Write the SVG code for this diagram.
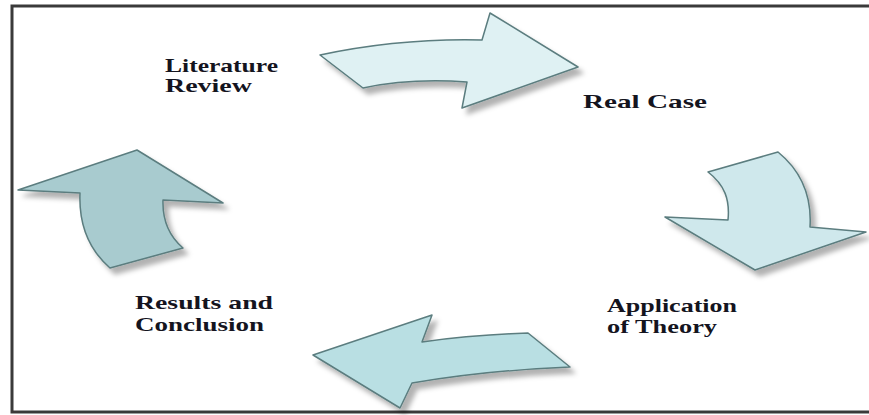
<svg xmlns="http://www.w3.org/2000/svg" width="869" height="415" viewBox="0 0 869 415">
<style>
.arrow{stroke:#5b7d7f;stroke-width:1.5;stroke-linejoin:round;filter:url(#sh)}
.lbl{font-family:"Liberation Serif","Times New Roman",serif;font-weight:bold;font-size:19px;fill:#14141e}
</style>
<defs>
<filter id="sh" x="-20%" y="-20%" width="150%" height="150%">
<feDropShadow dx="5" dy="6" stdDeviation="2.5" flood-color="#000" flood-opacity="0.3"/>
</filter>
</defs>
<rect width="869" height="415" fill="#fff"/>
<rect x="12" y="6" width="880" height="406" fill="none" stroke="#3a3a3a" stroke-width="3"/>
<g id="connectors">
<path id="arrow-top" class="arrow" fill="#dff1f3" d="M320,55 Q400,38 482,40 L490,13 L578,67 L462,108 L467,82 Q410,78 363,88 Z"/>
<path id="arrow-right" class="arrow" fill="#cfe8ec" d="M708,172 L778,152 C800,170 812,195 810,227 L866,232 L755,270 L665,217 L728,220 C730,200 725,185 708,172 Z"/>
<path id="arrow-bottom" class="arrow" fill="#b9dfe3" d="M313,355 L432,315 L422,342 Q470,335 528,333 L570,367 Q490,370 412,383 L400,408 Z"/>
<path id="arrow-left" class="arrow" fill="#a8cbcf" d="M137,150 L223,203 L163,200 Q162,230 183,248 L110,268 Q78,240 80,193 L18,190 Z"/>
</g>
<g id="node-literature">
<text class="lbl" x="165" y="72" textLength="113" lengthAdjust="spacingAndGlyphs">Literature</text>
<text class="lbl" x="165" y="92" textLength="87" lengthAdjust="spacingAndGlyphs">Review</text>
</g>
<g id="node-realcase">
<text class="lbl" x="583" y="108" textLength="124" lengthAdjust="spacingAndGlyphs">Real Case</text>
</g>
<g id="node-application">
<text class="lbl" x="607" y="312" textLength="130" lengthAdjust="spacingAndGlyphs">Application</text>
<text class="lbl" x="607" y="333" textLength="110" lengthAdjust="spacingAndGlyphs">of Theory</text>
</g>
<g id="node-results">
<text class="lbl" x="135" y="309" textLength="138" lengthAdjust="spacingAndGlyphs">Results and</text>
<text class="lbl" x="135" y="331" textLength="129" lengthAdjust="spacingAndGlyphs">Conclusion</text>
</g>
</svg>
